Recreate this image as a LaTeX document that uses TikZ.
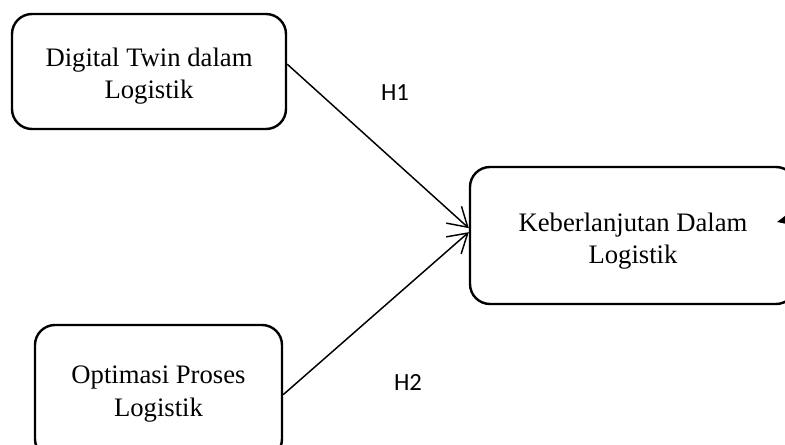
\documentclass[tikz,border=0pt]{standalone}
\usepackage{fontspec}
\setmainfont{Liberation Serif}
\newfontfamily\hfont{Carlito}
\usetikzlibrary{positioning, arrows.meta}
\newcommand{\topgap}[1]{\rule{0pt}{#1}}

\begin{document}
\begin{tikzpicture}[
    x=0.75pt, y=-0.75pt,
    font=\fontsize{20}{24.5}\selectfont,
    box/.style={rectangle, draw=black, line width=1.8pt, rounded corners=15pt, align=center},
    arrow/.style={-{Straight Barb[length=14pt, width=17pt, line width=1.1pt]}, line width=1.1pt, black},
    stubarrow/.style={-{Triangle[length=8pt, width=7pt]}, line width=1.1pt, black},
    hyp/.style={font=\hfont\fontsize{18.5}{22}\selectfont}
]
\useasboundingbox (0,0) rectangle (785,445);

% ==================== LEFT SIDE ====================
\node[box, minimum width=205.5pt, minimum height=86.25pt] (twin) at (149,71.5) {\topgap{21pt}Digital Twin dalam\\Logistik};
\node[box, minimum width=185.25pt, minimum height=100.5pt] (optim) at (158.5,392) {\topgap{16.5pt}Optimasi Proses\\Logistik};

% ==================== RIGHT SIDE ====================
\node[box, minimum width=244.5pt, minimum height=102.75pt] (keber) at (633,235.5) {\topgap{22.5pt}Keberlanjutan Dalam\\Logistik};

% ==================== ARROWS & LABELS ====================
\draw[arrow] ([yshift=5.5pt]twin.east) -- ([yshift=5.5pt]keber.west);
\draw[arrow] ([yshift=-2pt]optim.east) -- ([yshift=2.5pt]keber.west);

\node[hyp] (h1) at (395,93) {H1};
\node[hyp] (h2) at (408,382) {H2};

% arrow coming in from the right edge
\coordinate (offright) at (812,214);
\coordinate (stub) at (777,222);
\draw[stubarrow] (offright) -- (stub);

\end{tikzpicture}
\end{document}
